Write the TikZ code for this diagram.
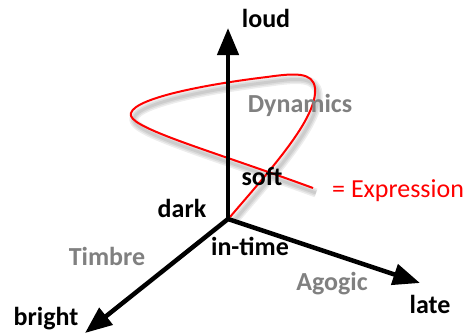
\documentclass[tikz,border=0pt]{standalone}
\usepackage{fontspec}
\setmainfont{Carlito}
\usetikzlibrary{arrows.meta}

\begin{document}
\begin{tikzpicture}[x=1pt, y=-1pt, >={Triangle[length=27pt, width=21pt]}, axis/.style={->, line width=4.5pt}, lbl/.style={anchor=base, font=\fontsize{26}{30}\selectfont\bfseries, inner sep=0pt}, dim/.style={lbl, text=black!50}, shade/.style={black, line width=#1, opacity=.07, line join=round} ]
		\useasboundingbox (0,0) rectangle (468,333);
		% axes
		\coordinate (o) at (228,219);
		\coordinate (loudtip) at (228,28);
		\coordinate (latetip) at (420,283);
		\coordinate (brighttip) at (85,333);
		% expression curve (with soft shadow)
		\def\exprpath{(230,217) .. controls (270,170) and (318,118) .. (315,88) .. controls (313,72) and (295,73) .. (267,77) .. controls (200,85) and (126,100) .. (131,116) .. controls (136,130) and (215,152) .. (313,188)}
		\foreach \w in {9pt,6pt,3pt}
			\draw[shade=\w, shift={(3,5)}] \exprpath;
		\draw[red, line width=2pt] \exprpath;
		\draw[axis] (o) -- (loudtip);
		\draw[axis] (o) -- (latetip);
		\draw[axis] (o) -- (brighttip);
		% labels
		\node[lbl] (loud) at (266,27) {loud};
		\node[lbl] (late) at (430,313) {late};
		\node[lbl] (bright) at (46,325) {bright};
		\node[lbl] (dark) at (182,217) {dark};
		\node[lbl] (soft) at (262,185) {soft};
		\node[lbl] (intime) at (250,255) {in-time};
		\node[dim] (dyn) at (300,112) {Dynamics};
		\node[dim] (timbre) at (107,265) {Timbre};
		\node[dim] (agogic) at (332,290) {Agogic};
		\node[lbl, font=\fontsize{26}{30}\selectfont, text=red, anchor=base west] (expr) at (332,197) {= Expression};
\end{tikzpicture}
\end{document}
